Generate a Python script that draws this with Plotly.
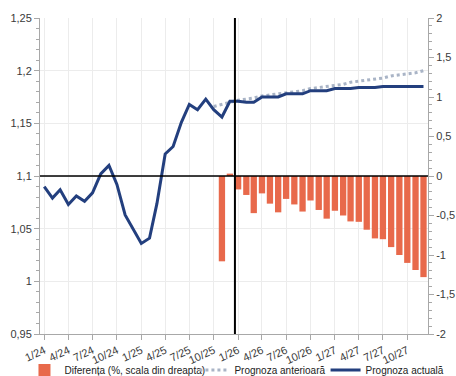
import pandas as pd
import plotly.graph_objects as go

months = pd.date_range("2024-01-01", "2027-12-01", freq="MS")

actual = [1.090, 1.079, 1.087, 1.073, 1.081, 1.076, 1.084, 1.102, 1.110, 1.092, 1.063, 1.049,
          1.036, 1.041, 1.074, 1.121, 1.128, 1.151, 1.168, 1.163, 1.173, 1.163, 1.156, 1.171,
          1.171, 1.170, 1.170, 1.175, 1.175, 1.175, 1.178, 1.178, 1.178, 1.181, 1.181, 1.181,
          1.183, 1.183, 1.183, 1.184, 1.184, 1.184, 1.185, 1.185, 1.185, 1.185, 1.185, 1.185]

prev_months = months[21:]
previous = [1.166, 1.168, 1.1695,
            1.172, 1.173, 1.174, 1.176, 1.177, 1.178, 1.179, 1.180, 1.181, 1.183, 1.184, 1.185,
            1.186, 1.187, 1.189, 1.190, 1.191, 1.192, 1.193, 1.195, 1.196, 1.197, 1.198, 1.200]

diff_months = months[22:]
diff = [-1.08, 0.03,
        -0.17, -0.24, -0.47, -0.22, -0.35, -0.46, -0.29, -0.36, -0.45, -0.31, -0.43, -0.54,
        -0.44, -0.50, -0.575, -0.58, -0.68, -0.79, -0.80, -0.90, -1.00, -1.10, -1.19, -1.28]

right_ticks = [-2, -1.5, -1, -0.5, 0, 0.5, 1, 1.5, 2]
right_labels = ["-2", "-1,5", "-1", "-0,5", "0", "0,5", "1", "1,5", "2"]

navy = "#233f7e"
orange = "#e8694b"
grey = "#a9b4c6"
axis_col = "#a8a8a8"
font = dict(family="Liberation Sans, Arial", size=11, color="#3a3a3a")
leg_font = dict(family="Liberation Sans, Arial", size=10, color="#222")

fig = go.Figure()
fig.add_trace(go.Bar(x=diff_months, y=diff, name="Diferența (%, scala din dreapta)",
                     marker=dict(color=orange, line=dict(width=0)), yaxis="y2", legend="legend"))
fig.add_trace(go.Scatter(x=prev_months, y=previous, name="Prognoza anterioară", mode="lines",
                         line=dict(color=grey, width=3, dash="dot"), legend="legend2"))
fig.add_trace(go.Scatter(x=months, y=actual, name="Prognoza actuală", mode="lines",
                         line=dict(color=navy, width=3), legend="legend3"))

# three separate legends so each entry sits where the original puts it
leg = dict(orientation="h", xanchor="left", y=-0.114, yanchor="middle", font=leg_font,
           itemwidth=30, bgcolor="rgba(0,0,0,0)")

fig.update_layout(width=456, height=376, margin=dict(l=40, r=28, t=18, b=42, autoexpand=False),
                  paper_bgcolor="white", plot_bgcolor="white", font=font, separators=",.",
                  bargap=0.15, showlegend=True,
                  legend=dict(leg, x=-0.04), legend2=dict(leg, x=0.398), legend3=dict(leg, x=0.736),
                  shapes=[dict(type="line", xref="paper", x0=0, x1=1, yref="y", y0=1.1, y1=1.1,
                               line=dict(color="black", width=1.5)),
                          dict(type="line", xref="x", x0="2025-12-20", x1="2025-12-20", yref="paper",
                               y0=0, y1=1, line=dict(color="black", width=2))])

fig.update_xaxes(type="date", range=["2023-12-16", "2027-12-18"], tickformat="%-m/%y", dtick="M3",
                 tick0="2024-01-01", tickangle=-25, showgrid=True, gridcolor="#ececec",
                 showline=True, linecolor=axis_col, ticks="outside", ticklen=5, tickcolor=axis_col)
fig.update_layout(
    yaxis=dict(range=[0.95, 1.25], dtick=0.05, showgrid=True, gridcolor="#ececec", zeroline=False,
               showline=True, linecolor=axis_col, ticks="outside", ticklen=5, tickcolor=axis_col,
               minor=dict(dtick=0.01, ticks="outside", ticklen=3, tickcolor=axis_col, showgrid=False)),
    yaxis2=dict(range=[-2, 2], overlaying="y", side="right", tickvals=right_ticks, ticktext=right_labels,
                showgrid=False, zeroline=False, showline=True, linecolor=axis_col, ticks="outside",
                ticklen=5, tickcolor=axis_col,
                minor=dict(dtick=0.1, ticks="outside", ticklen=3, tickcolor=axis_col)))

fig.write_html("out.html", config={"displayModeBar": False},
               post_script="document.body.style.margin='0';")
